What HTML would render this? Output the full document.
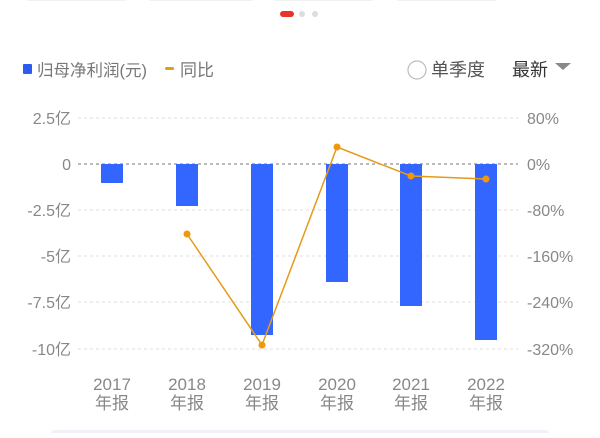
<!DOCTYPE html><html><head><meta charset="utf-8"><style>
body{margin:0;width:600px;height:433px;background:#fff;overflow:hidden;font-family:"Liberation Sans","Noto Sans CJK SC",sans-serif}
</style></head><body>
<svg width="600" height="433" xmlns="http://www.w3.org/2000/svg" font-family="Liberation Sans, Noto Sans CJK SC, sans-serif">
<rect x="25" y="-8" width="103" height="9" rx="4" fill="#f1f1f1"/>
<rect x="147" y="-8" width="108" height="9" rx="4" fill="#f1f1f1"/>
<rect x="272" y="-8" width="103" height="9" rx="4" fill="#f1f1f1"/>
<rect x="395" y="-8" width="103" height="9" rx="4" fill="#f1f1f1"/>
<rect x="280" y="11" width="14" height="6" rx="3" fill="#e8322c"/>
<circle cx="302" cy="14" r="3" fill="#ddd"/><circle cx="315" cy="14" r="3" fill="#ddd"/>
<rect x="23" y="64" width="9" height="10" rx="1" fill="#2b5cf0"/>
<text x="37" y="76" font-size="16.5" fill="#777">归母净利润(元)</text>
<rect x="165" y="67" width="9" height="3" rx="1.5" fill="#e69a1a"/>
<text x="180" y="76" font-size="17" fill="#777">同比</text>
<circle cx="417" cy="70" r="9" fill="none" stroke="#bbb" stroke-width="1.2"/>
<text x="431" y="76" font-size="18" fill="#555">单季度</text>
<text x="512" y="76" font-size="18" fill="#333">最新</text>
<path d="M555 63 L571 63 L563 70 Z" fill="#888"/>
<g stroke="#ddd" stroke-dasharray="3,3" stroke-width="1">
<line x1="78" y1="118" x2="518" y2="118"/><line x1="78" y1="210" x2="518" y2="210"/>
<line x1="78" y1="256" x2="518" y2="256"/><line x1="78" y1="302" x2="518" y2="302"/><line x1="78" y1="349" x2="518" y2="349"/>
</g>
<line x1="78" y1="164" x2="518" y2="164" stroke="#777" stroke-dasharray="3,3"/>
<g font-size="16" fill="#888" text-anchor="end">
<text x="71" y="124">2.5亿</text><text x="71" y="170">0</text><text x="71" y="216">-2.5亿</text>
<text x="71" y="262">-5亿</text><text x="71" y="308">-7.5亿</text><text x="71" y="355">-10亿</text>
</g>
<g font-size="16" fill="#888">
<text x="527" y="124">80%</text><text x="527" y="170">0%</text><text x="527" y="216">-80%</text>
<text x="527" y="262">-160%</text><text x="527" y="308">-240%</text><text x="527" y="355">-320%</text>
</g>
<g fill="#3366ff">
<rect x="101" y="164" width="22" height="19"/><rect x="176" y="164" width="22" height="42"/>
<rect x="251" y="164" width="22" height="171"/><rect x="326" y="164" width="22" height="118"/>
<rect x="400" y="164" width="22" height="142"/><rect x="475" y="164" width="22" height="176"/>
</g>
<polyline points="187,234 262,345 337,147 411,176 486,179" fill="none" stroke="#e69a1a" stroke-width="1.5"/>
<g fill="#f0980c">
<circle cx="187" cy="234" r="3.5"/><circle cx="262" cy="345" r="3.5"/><circle cx="337" cy="147" r="3.5"/>
<circle cx="411" cy="176" r="3.5"/><circle cx="486" cy="179" r="3.5"/>
</g>
<g font-size="17" fill="#888" text-anchor="middle">
<text x="112" y="390">2017</text><text x="112" y="409">年报</text>
<text x="187" y="390">2018</text><text x="187" y="409">年报</text>
<text x="262" y="390">2019</text><text x="262" y="409">年报</text>
<text x="337" y="390">2020</text><text x="337" y="409">年报</text>
<text x="411" y="390">2021</text><text x="411" y="409">年报</text>
<text x="486" y="390">2022</text><text x="486" y="409">年报</text>
</g>
<rect x="50" y="430" width="500" height="10" rx="5" fill="#eef2f8"/>
</svg>
</body></html>
